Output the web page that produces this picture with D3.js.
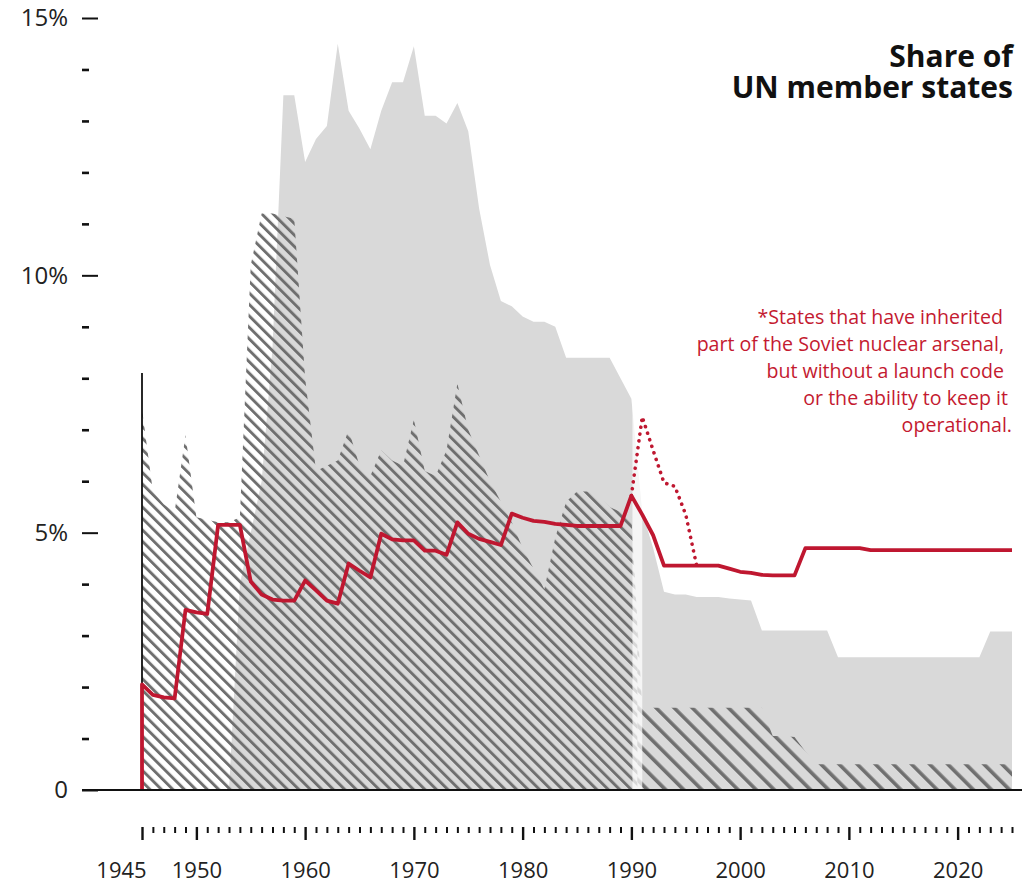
<!DOCTYPE html>
<html><head><meta charset="utf-8">
<script src="https://cdn.jsdelivr.net/npm/d3@7"></script>
<style>
html,body{margin:0;padding:0;background:#fff;}
svg{display:block;font-family:"Open Sans",sans-serif;}
</style></head><body>
<svg id="chart" width="1036" height="885"></svg>
<script>
// ---------------- DATA ----------------
const years = d3.range(1945, 2026); // 1945..2025

// Grey area: from 1953 to 2025
const greyYears = d3.range(1953, 2026);
const greyValues = [
  0, 4.0, 5.0, 6.0, 8.6, 13.5, 13.5,                               // 1953-1959
  12.2, 12.65, 12.9, 14.5, 13.2, 12.85, 12.45, 13.2, 13.75, 13.75, // 1960-1969
  14.45, 13.1, 13.1, 12.95, 13.35, 12.8, 11.3, 10.2, 9.5, 9.4,     // 1970-1979
  9.2, 9.1, 9.1, 9.0, 8.4, 8.4, 8.4, 8.4, 8.4, 8.0,                // 1980-1989
  7.6, 5.4, 4.7, 3.85, 3.8, 3.8, 3.75, 3.75, 3.75, 3.72,           // 1990-1999
  3.7, 3.68, 3.1, 3.1, 3.1, 3.1, 3.1, 3.1, 3.1, 2.58,              // 2000-2009
  2.58, 2.58, 2.58, 2.58, 2.58, 2.58, 2.58, 2.58, 2.58, 2.58,      // 2010-2019
  2.58, 2.58, 2.58, 3.08, 3.08, 3.08                               // 2020-2025
];

// Hatched area: 1945-2025
const hatchValues = [
  7.4, 5.8, 5.55, 5.4, 6.9,                                        // 1945-1949
  5.3, 5.25, 5.2, 5.2, 5.3, 10.2, 11.2, 11.2, 11.15, 11.1,         // 1950-1959
  8.0, 6.2, 6.3, 6.4, 7.0, 6.3, 6.1, 6.6, 6.4, 6.3,                // 1960-1969
  7.2, 6.2, 6.1, 6.6, 7.9, 7.0, 6.5, 6.0, 5.6, 5.2,                // 1970-1979
  4.7, 4.3, 3.9, 4.9, 5.6, 5.8, 5.8, 5.7, 5.5, 5.4,                // 1980-1989
  5.3, 1.6, 1.6, 1.6, 1.6, 1.6, 1.6, 1.6, 1.6, 1.6,                // 1990-1999
  1.6, 1.6, 1.6, 1.05, 1.05, 1.03, 0.75, 0.5, 0.5, 0.5,            // 2000-2009
  0.5, 0.5, 0.5, 0.5, 0.5, 0.5, 0.5, 0.5, 0.5, 0.5,                // 2010-2019
  0.5, 0.5, 0.5, 0.5, 0.5, 0.5                                     // 2020-2025
];

// Red line (share): starts from 0 at 1945
const redYears = [1945].concat(years);
const redValues = [
  0,
  2.05, 1.85, 1.8, 1.78, 3.5,                                      // 1945-1949
  3.45, 3.42, 5.15, 5.15, 5.15, 4.05, 3.8, 3.7, 3.68, 3.68,        // 1950-1959
  4.07, 3.88, 3.68, 3.62, 4.4, 4.26, 4.13, 4.98, 4.87, 4.85,       // 1960-1969
  4.85, 4.65, 4.65, 4.57, 5.2, 4.98, 4.88, 4.82, 4.76, 5.37,       // 1970-1979
  5.29, 5.23, 5.21, 5.17, 5.15, 5.13, 5.13, 5.13, 5.13, 5.13,      // 1980-1989
  5.72, 5.35, 4.95, 4.36, 4.36, 4.36, 4.36, 4.36, 4.36, 4.3,       // 1990-1999
  4.24, 4.22, 4.18, 4.17, 4.17, 4.17, 4.7, 4.7, 4.7, 4.7,          // 2000-2009
  4.7, 4.7, 4.66, 4.66, 4.66, 4.66, 4.66, 4.66, 4.66, 4.66,        // 2010-2019
  4.66, 4.66, 4.66, 4.66, 4.66, 4.66                               // 2020-2025
];

// Dotted red line (incl. states inheriting part of Soviet arsenal*)
const dotYears = [1990, 1991, 1992, 1993, 1994, 1995, 1996];
const dotValues = [5.72, 7.25, 6.6, 5.97, 5.9, 5.35, 4.36];

// Vertical marker at 1945
const markerYear = 1945;
const markerValue = 8.1;

// Break around the dissolution of the USSR
const gapStart = 1990.1, gapEnd = 1991.0, gapTop = 8.0;
const splitYear = 1990.55;

// Ticks
const yMajorTicks = [0, 5, 10, 15];
const yMajorLabels = ["0", "5%", "10%", "15%"];
const yMinorTicks = [1, 2, 3, 4, 6, 7, 8, 9, 11, 12, 13, 14];
const xMajorTicks = [1945, 1950, 1960, 1970, 1980, 1990, 2000, 2010, 2020];
const xMajorLabels = ["1945", "1950", "1960", "1970", "1980", "1990", "2000", "2010", "2020"];
const xMinorTicks = years.filter(y => !xMajorTicks.includes(y));

const titleLines = ["Share of", "UN member states"];
const noteLines = [
  "*States that have inherited",
  "part of the Soviet nuclear arsenal,",
  "but without a launch code",
  "or the ability to keep it",
  "operational."
];

// ---------------- CHART ----------------
const svg = d3.select("#chart");
const RED = "#bf1730";

const x = d3.scaleLinear().domain([1945, 2025]).range([142, 1012]);
const y = d3.scaleLinear().domain([0, 15]).range([790, 18]);

const defs = svg.append("defs");
function makePattern(id, period, stripe, color) {
  const p = defs.append("pattern")
    .attr("id", id)
    .attr("patternUnits", "userSpaceOnUse")
    .attr("width", period).attr("height", period)
    .attr("patternTransform", "rotate(-45)");
  p.append("rect").attr("x", 0).attr("y", 0)
    .attr("width", stripe).attr("height", period).attr("fill", color);
}
makePattern("hatchA", 8.1, 2.9, "#6f6f6f");
makePattern("hatchB", 12.8, 3.6, "#6f6f6f");

defs.append("clipPath").attr("id", "clipPre")
  .append("rect").attr("x", 0).attr("y", 0)
  .attr("width", x(splitYear)).attr("height", 885);
defs.append("clipPath").attr("id", "clipPost")
  .append("rect").attr("x", x(splitYear)).attr("y", 0)
  .attr("width", 1036 - x(splitYear)).attr("height", 885);

// grey area
const greyData = greyYears.map((yr, i) => [yr, greyValues[i]]);
svg.append("path")
  .datum(greyData)
  .attr("fill", "#d9d9d9")
  .attr("d", d3.area().x(d => x(d[0])).y0(y(0)).y1(d => y(d[1])));

// hatched area (two pattern scales, before / after 1991)
const hatchData = years.map((yr, i) => [yr, hatchValues[i]]);
const hatchArea = d3.area().x(d => x(d[0])).y0(y(0)).y1(d => y(d[1]));
svg.append("path")
  .datum(hatchData)
  .attr("fill", "url(#hatchA)")
  .attr("clip-path", "url(#clipPre)")
  .attr("d", hatchArea);
svg.append("path")
  .datum(hatchData)
  .attr("fill", "url(#hatchB)")
  .attr("clip-path", "url(#clipPost)")
  .attr("d", hatchArea);

// light gap band
svg.append("rect")
  .attr("x", x(gapStart)).attr("width", x(gapEnd) - x(gapStart))
  .attr("y", y(gapTop)).attr("height", y(0) - y(gapTop))
  .attr("fill", "#fff").attr("opacity", 0.72);

// vertical marker line
svg.append("line")
  .attr("x1", x(markerYear)).attr("x2", x(markerYear))
  .attr("y1", y(markerValue)).attr("y2", y(0))
  .attr("stroke", "#111").attr("stroke-width", 1.8);

// dotted red line
const dotData = dotYears.map((yr, i) => [yr, dotValues[i]]);
svg.append("path")
  .datum(dotData)
  .attr("fill", "none")
  .attr("stroke", RED)
  .attr("stroke-width", 3.6)
  .attr("stroke-linecap", "round")
  .attr("stroke-dasharray", "0.1 6.8")
  .attr("d", d3.line().x(d => x(d[0])).y(d => y(d[1])));

// red line
const redData = redYears.map((yr, i) => [yr, redValues[i]]);
svg.append("path")
  .datum(redData)
  .attr("fill", "none")
  .attr("stroke", RED)
  .attr("stroke-width", 3.8)
  .attr("stroke-linejoin", "round")
  .attr("d", d3.line().x(d => x(d[0])).y(d => y(d[1])));

// baseline
svg.append("line")
  .attr("x1", 82).attr("x2", 1022)
  .attr("y1", y(0)).attr("y2", y(0))
  .attr("stroke", "#111").attr("stroke-width", 2);

// y axis major
const gyMaj = svg.append("g").attr("transform", "translate(98,0)")
  .call(d3.axisLeft(y).tickValues(yMajorTicks).tickSize(16).tickPadding(14)
    .tickFormat((d, i) => yMajorLabels[i]));
gyMaj.select(".domain").remove();
gyMaj.selectAll("line").attr("stroke", "#111").attr("stroke-width", 2);
gyMaj.selectAll("text").attr("font-size", 24).attr("fill", "#222")
  .attr("font-family", "'Open Sans', sans-serif");

// y axis minor
const gyMin = svg.append("g").attr("transform", "translate(89,0)")
  .call(d3.axisLeft(y).tickValues(yMinorTicks).tickSize(7).tickFormat(""));
gyMin.select(".domain").remove();
gyMin.selectAll("line").attr("stroke", "#111").attr("stroke-width", 2.6);

// x axis minor
const gxMin = svg.append("g").attr("transform", "translate(0,827)")
  .call(d3.axisBottom(x).tickValues(xMinorTicks).tickSize(6).tickFormat(""));
gxMin.select(".domain").remove();
gxMin.selectAll("line").attr("stroke", "#111").attr("stroke-width", 2);

// x axis major
const gxMaj = svg.append("g").attr("transform", "translate(0,827)")
  .call(d3.axisBottom(x).tickValues(xMajorTicks).tickSize(13).tickPadding(22)
    .tickFormat((d, i) => xMajorLabels[i]));
gxMaj.select(".domain").remove();
gxMaj.selectAll("line").attr("stroke", "#111").attr("stroke-width", 2.4);
gxMaj.selectAll("text").attr("font-size", 22).attr("fill", "#222")
  .attr("font-family", "'Open Sans', sans-serif")
  .attr("dx", d => d === 1945 ? -21 : 0);

// title
const title = svg.append("text")
  .attr("text-anchor", "end")
  .attr("font-weight", 700)
  .attr("font-size", 30)
  .attr("fill", "#111");
title.selectAll("tspan").data(titleLines).join("tspan")
  .attr("x", 1013)
  .attr("y", (d, i) => 67 + i * 31)
  .text(d => d);

// note
const noteRight = [1003, 1004, 1004, 1008, 1012];
const note = svg.append("text")
  .attr("text-anchor", "end")
  .attr("font-size", 19.6)
  .attr("fill", "#c41a30");
note.selectAll("tspan").data(noteLines).join("tspan")
  .attr("x", (d, i) => noteRight[i])
  .attr("y", (d, i) => 324 + i * 27)
  .text(d => d);
</script>
</body></html>
